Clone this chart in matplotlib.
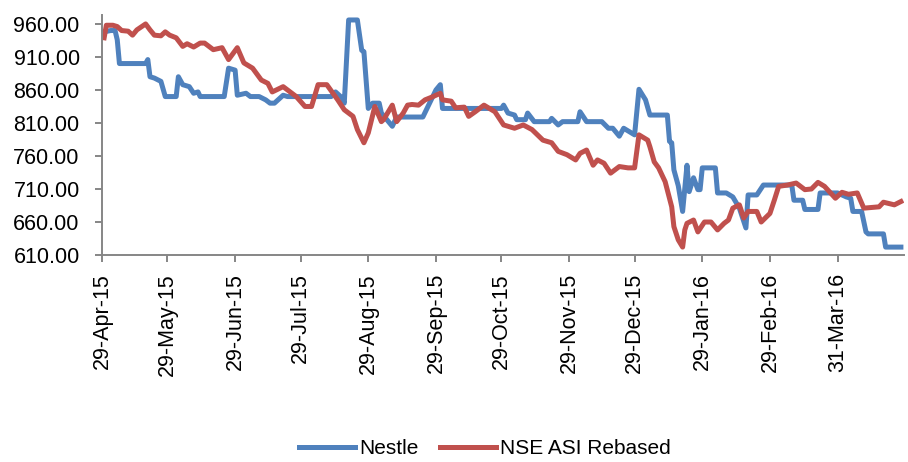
import pandas as pd
import matplotlib
matplotlib.use('Agg')
import matplotlib.pyplot as plt
import matplotlib.dates as mdates

plt.rcParams['font.family'] = ['Liberation Sans', 'DejaVu Sans']

start = pd.Timestamp('2015-04-29')

# days after 29-Apr-15 and closing values
nestle_days = [1, 4, 6, 7, 8, 20, 21, 22, 24, 27, 29, 34, 35, 37, 40, 42, 44, 45, 56, 58,
               61, 62, 66, 68, 72, 75, 77, 79, 83, 85, 105, 107, 110, 111, 113, 117, 119, 120, 122, 124,
               127, 128, 133, 135, 147, 153, 155, 156, 183, 184, 186, 189, 190, 194, 195, 198, 205, 206, 209, 211,
               218, 219, 222, 229, 232, 234, 237, 239, 241, 244, 246, 249, 251, 259, 260, 261, 262, 264, 266, 268,
               269, 271, 273, 274, 275, 281, 282, 286, 289, 292, 295, 296, 300, 303, 316, 317, 321, 322, 328, 329,
               337, 341, 343, 344, 348, 350, 351, 358, 359, 366]
nestle_vals = [948, 950, 950, 936, 900, 900, 906, 880, 878, 873, 850, 850, 880, 868, 865, 855, 857, 850, 850, 893,
               890, 852, 855, 850, 850, 845, 840, 840, 852, 850, 850, 857, 848, 840, 966, 966, 920, 918, 832, 840,
               840, 825, 805, 819, 819, 860, 868, 832, 832, 837, 825, 822, 815, 815, 825, 812, 812, 817, 807, 812,
               812, 827, 812, 812, 802, 802, 790, 802, 798, 792, 861, 845, 822, 822, 782, 780, 739, 715, 676, 746,
               706, 727, 709, 709, 742, 742, 704, 704, 698, 681, 651, 701, 701, 716, 716, 693, 693, 679, 679, 704,
               704, 698, 696, 676, 676, 645, 642, 642, 622, 622]

nse_days = [1, 2, 5, 7, 9, 12, 14, 16, 20, 22, 24, 27, 29, 31, 34, 37, 39, 42, 45, 47,
            51, 55, 58, 62, 65, 69, 73, 76, 78, 83, 89, 93, 96, 99, 103, 108, 111, 115, 117, 120,
            122, 125, 128, 129, 133, 135, 138, 140, 142, 145, 148, 151, 155, 156, 160, 162, 166, 168, 171, 175,
            180, 184, 189, 193, 197, 202, 206, 209, 213, 217, 219, 222, 225, 227, 230, 233, 237, 241, 244, 246,
            250, 251, 253, 255, 258, 261, 262, 264, 266, 267, 268, 271, 273, 276, 279, 282, 285, 287, 289, 292,
            294, 296, 300, 302, 306, 308, 310, 314, 318, 322, 325, 328, 331, 336, 339, 342, 346, 349, 356, 358,
            363, 366]
nse_vals = [939, 958, 958, 956, 950, 949, 943, 951, 960, 951, 943, 942, 948, 943, 939, 926, 930, 925, 931, 931,
            921, 924, 906, 924, 901, 893, 875, 870, 857, 865, 850, 835, 835, 868, 868, 845, 830, 820, 800, 780,
            795, 835, 812, 815, 837, 812, 825, 837, 838, 837, 845, 849, 855, 845, 843, 833, 834, 820, 827, 837,
            827, 807, 802, 807, 800, 784, 780, 767, 762, 754, 764, 769, 746, 754, 749, 734, 744, 742, 742, 792,
            784, 774, 751, 742, 721, 683, 653, 633, 622, 648, 658, 663, 645, 660, 660, 648, 658, 663, 681, 686,
            666, 676, 676, 660, 673, 693, 714, 716, 719, 709, 710, 720, 714, 696, 705, 702, 704, 681, 683, 690,
            686, 691]

tick_dates = ['2015-04-29', '2015-05-29', '2015-06-29', '2015-07-29', '2015-08-29', '2015-09-29',
              '2015-10-29', '2015-11-29', '2015-12-29', '2016-01-29', '2016-02-29', '2016-03-31']
y_ticks = [610, 660, 710, 760, 810, 860, 910, 960]

nestle_x = start + pd.to_timedelta(nestle_days, unit='D')
nse_x = start + pd.to_timedelta(nse_days, unit='D')

fig = plt.figure(figsize=(9.08, 4.62), dpi=100)
ax = fig.add_axes([0.1123, 0.448, 0.8835, 0.5195])

ax.plot(nestle_x, nestle_vals, color='#4F81BD', lw=3.6, label='Nestle', solid_joinstyle='round')
ax.plot(nse_x, nse_vals, color='#C0504D', lw=3.6, label='NSE ASI Rebased', solid_joinstyle='round')

ax.set_ylim(610, 973.5)
ax.set_yticks(y_ticks)
ax.yaxis.set_major_formatter(matplotlib.ticker.FormatStrFormatter('%.2f'))
ax.set_xlim(start, start + pd.Timedelta(days=367.5))
ax.set_xticks(pd.to_datetime(tick_dates))
ax.xaxis.set_major_formatter(mdates.DateFormatter('%d-%b-%y'))
plt.setp(ax.get_xticklabels(), rotation=90)

for s in ['top', 'right']:
    ax.spines[s].set_visible(False)
for s in ['left', 'bottom']:
    ax.spines[s].set_color('#868686')
    ax.spines[s].set_linewidth(1.4)
ax.tick_params(axis='both', colors='#868686', labelcolor='black', length=5, width=1.4,
               labelsize=15.5)
ax.tick_params(axis='y', pad=11)
ax.tick_params(axis='x', pad=8)

fig.legend(loc='center', bbox_to_anchor=(485 / 908, 1 - 449 / 462), ncol=2, frameon=False,
           fontsize=15, handlelength=2.7, handletextpad=0.2, columnspacing=1.0)

fig.savefig('out.png', dpi=100)
